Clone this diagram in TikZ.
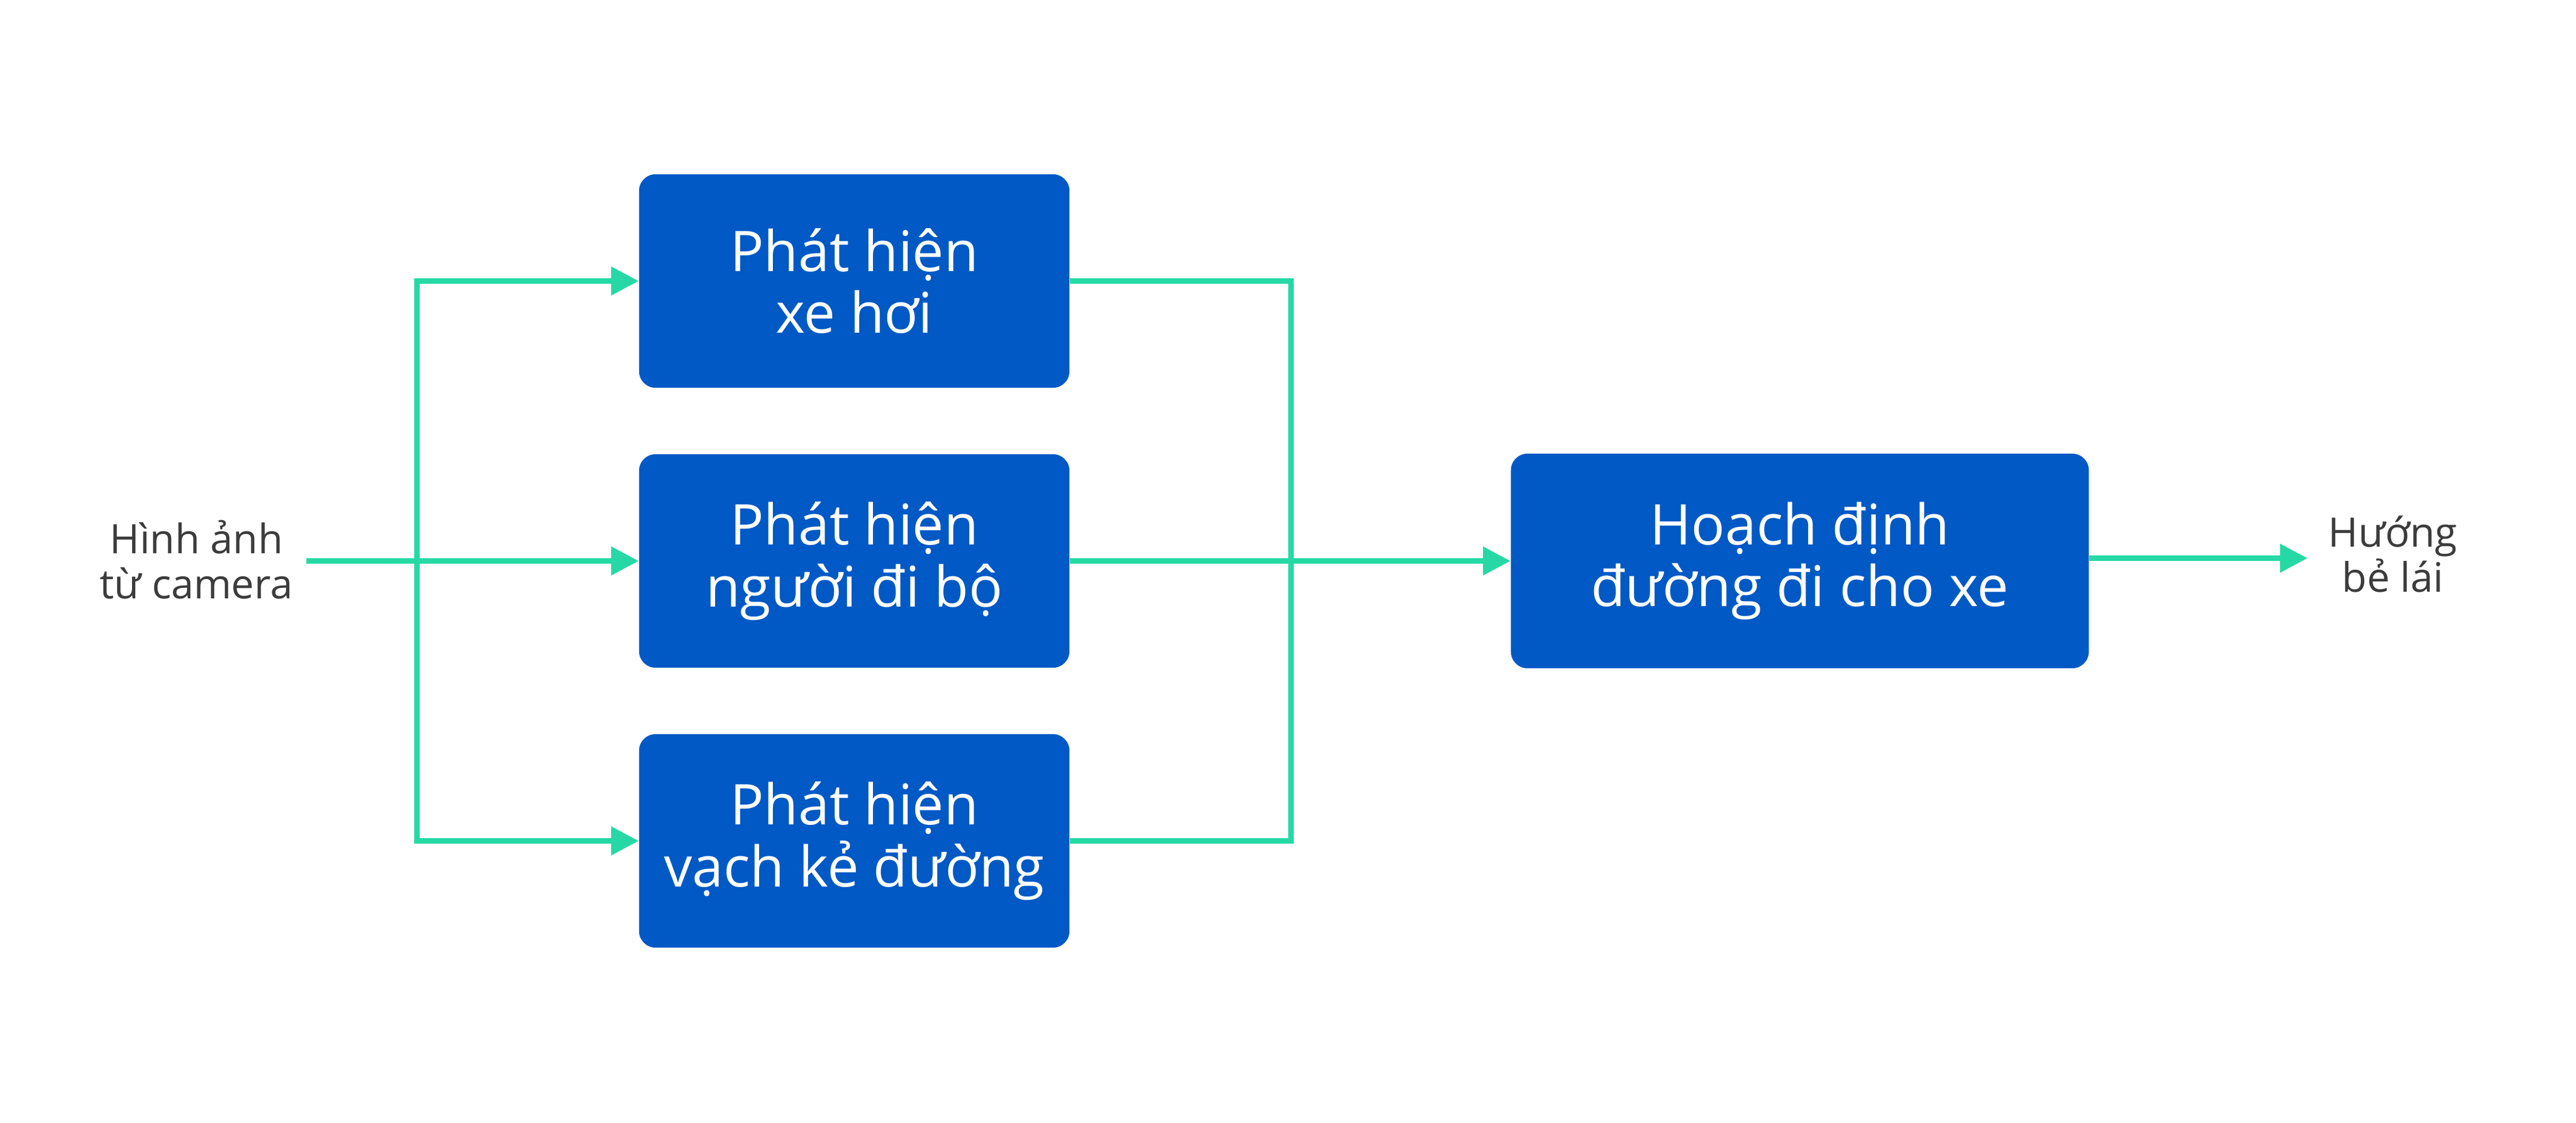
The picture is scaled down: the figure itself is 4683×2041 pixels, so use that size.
\documentclass[tikz,border=0pt]{standalone}
\usepackage{fontspec}
\setmainfont{Open Sans}
\usetikzlibrary{arrows.meta}
\definecolor{boxblue}{HTML}{0059C5}
\definecolor{flowgreen}{HTML}{26D9A4}
\definecolor{labelgray}{HTML}{3C3C3C}
\begin{document}
\begin{tikzpicture}[x=0.01cm,y=-0.01cm,
  stagebox/.style={fill=boxblue, rounded corners=0.3cm, minimum width=7.82cm, minimum height=3.88cm,
    inner sep=0pt, text=white, align=center, font=\fontsize{29}{32}\selectfont},
  flow/.style={draw=flowgreen, line width=0.1cm},
  flowarrow/.style={flow, -{Triangle[length=0.5cm,width=0.5cm]}},
  sidelabel/.style={text=labelgray, align=center, inner sep=0pt, font=\fontsize{21}{23.3}\selectfont}]
\useasboundingbox (0,0) rectangle (4683,2041);
\node[stagebox] (b1) at (1553,511) {Phát hiện\\xe hơi};
\node[stagebox] (b2) at (1553,1020) {Phát hiện\\người đi bộ};
\node[stagebox] (b3) at (1553,1529) {Phát hiện\\vạch kẻ đường};
\node[stagebox, minimum width=10.5cm, minimum height=3.9cm] (b4) at (3272,1020) {Hoạch định\\đường đi cho xe};
\node[sidelabel] (src) at (357,1018) {Hình ảnh\\từ camera};
\node[sidelabel] (out) at (4350,1008) {Hướng\\bẻ lái};
\coordinate (ins) at (557,1020);
\coordinate (jl) at (758,1020);
\coordinate (jr) at (2347,1020);
\coordinate (oute) at (4195,1015);
\draw[flowarrow] (ins) -- (b2.west);
\draw[flowarrow] (jl) |- (b1.west);
\draw[flowarrow] (jl) |- (b3.west);
\draw[flow] (b1.east) -| (jr);
\draw[flow] (b3.east) -| (jr);
\draw[flowarrow] (b2.east) -- (b4.west);
\draw[flowarrow] (b4.east |- oute) -- (oute);
\end{tikzpicture}
\end{document}
